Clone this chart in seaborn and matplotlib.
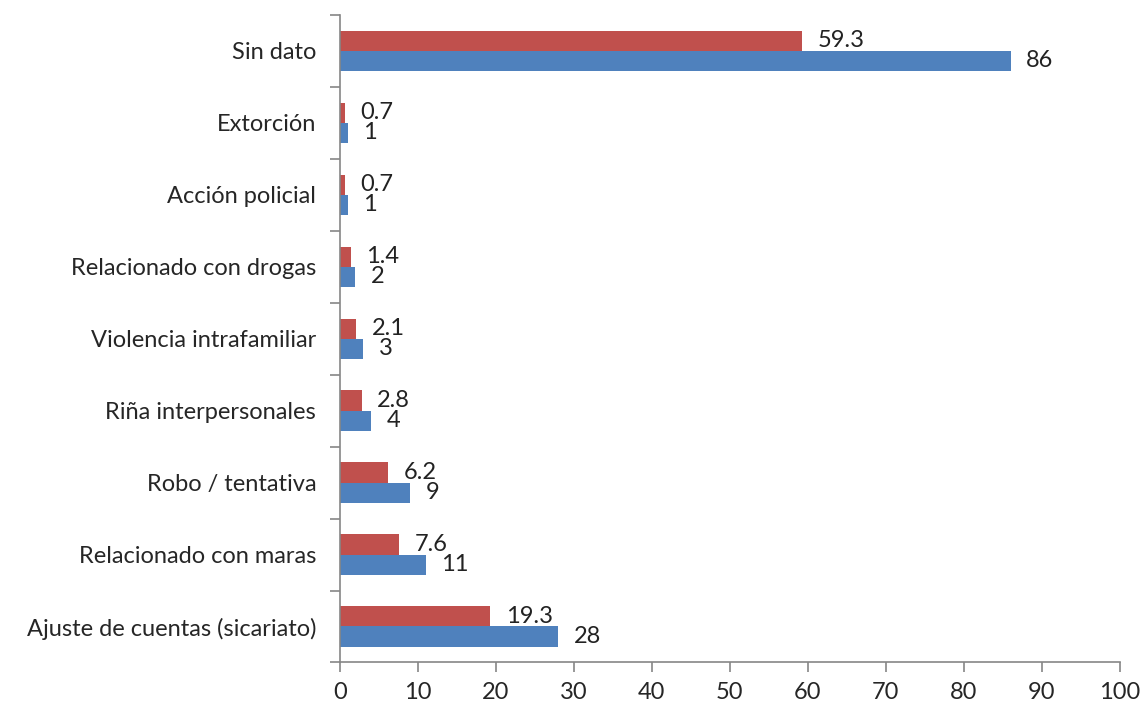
import numpy as np
import pandas as pd
import matplotlib
matplotlib.use("Agg")
import matplotlib.pyplot as plt
import seaborn as sns

categories = ["Sin dato", "Extorción", "Acción policial", "Relacionado con drogas",
              "Violencia intrafamiliar", "Riña interpersonales", "Robo / tentativa",
              "Relacionado con maras", "Ajuste de cuentas (sicariato)"]
porcentaje = [59.3, 0.7, 0.7, 1.4, 2.1, 2.8, 6.2, 7.6, 19.3]
casos = [86, 1, 1, 2, 3, 4, 9, 11, 28]

df = pd.DataFrame({
    "Categoria": categories * 2,
    "Valor": porcentaje + casos,
    "Serie": ["Porcentaje"] * len(categories) + ["Casos"] * len(categories),
})

sns.set_style("white")
plt.rcParams["font.family"] = ["Lato", "DejaVu Sans"]

fig = plt.figure(figsize=(11.44, 7.07), dpi=100)
ax = fig.add_axes([0.297, 0.063, 0.682, 0.916])

sns.barplot(data=df, y="Categoria", x="Valor", hue="Serie", orient="h",
            order=categories, hue_order=["Porcentaje", "Casos"],
            palette=["#C0504D", "#4F81BD"], saturation=1, width=0.56,
            legend=False, ax=ax, edgecolor="none")

# etiquetas de valor
for cont, vals in zip(ax.containers, [porcentaje, casos]):
    ax.bar_label(cont, labels=[f"{v:g}" for v in vals], padding=11,
                 fontsize=17, color="#222222")

ax.set_xlim(0, 100)
ax.set_xticks(np.arange(0, 101, 10))
ax.set_ylim(len(categories) - 0.5, -0.5)
ax.set_yticks(np.arange(len(categories)))
ax.set_yticks(np.arange(-0.5, len(categories), 1), minor=True)
ax.tick_params(axis="y", which="major", left=False, length=0, pad=17, labelsize=17)
ax.tick_params(axis="y", which="minor", left=True, length=7, width=1.2,
               color="#868686", direction="out")
ax.tick_params(axis="x", bottom=True, length=7, width=1.2, color="#868686",
               direction="out", labelsize=17, pad=7)
ax.set_xlabel("")
ax.set_ylabel("")

for s in ["top", "right"]:
    ax.spines[s].set_visible(False)
for s in ["left", "bottom"]:
    ax.spines[s].set_color("#868686")
    ax.spines[s].set_linewidth(1.2)

fig.savefig("out.png", dpi=100)
